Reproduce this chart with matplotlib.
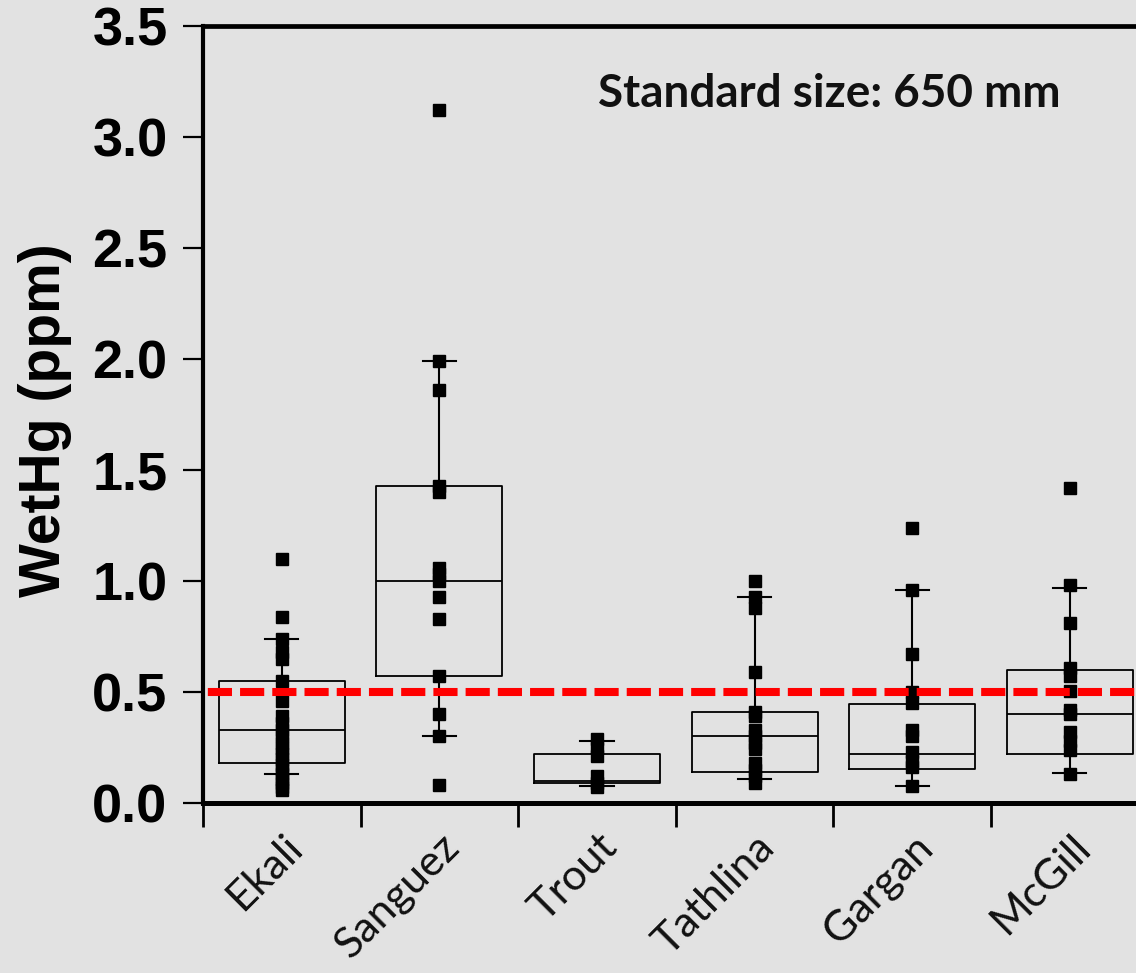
import matplotlib
matplotlib.use("Agg")
import matplotlib.pyplot as plt
import matplotlib.transforms as mtransforms

# ---- data ----
categories = ["Ekali", "Sanguez", "Trout", "Tathlina", "Gargan", "McGill"]

ekali = [1.10, 0.84, 0.74, 0.68, 0.65, 0.55, 0.46, 0.39, 0.36, 0.33, 0.30, 0.27,
         0.25, 0.22, 0.20, 0.17, 0.15, 0.13, 0.11, 0.09, 0.07, 0.06]
sanguez = [3.12, 1.99, 1.86, 1.43, 1.40, 1.06, 1.03, 1.00, 0.93, 0.83, 0.57, 0.40, 0.30, 0.08]
trout = [0.29, 0.25, 0.21, 0.12, 0.09, 0.07]
tathlina = [1.00, 0.93, 0.88, 0.59, 0.41, 0.39, 0.33, 0.30, 0.27, 0.245, 0.18, 0.15, 0.12, 0.09]
gargan = [1.24, 0.96, 0.67, 0.50, 0.45, 0.33, 0.30, 0.23, 0.19, 0.16, 0.075]
mcgill = [1.42, 0.98, 0.81, 0.61, 0.57, 0.505, 0.42, 0.40, 0.32, 0.28, 0.24, 0.13]
points = [ekali, sanguez, trout, tathlina, gargan, mcgill]

q1 = [0.18, 0.57, 0.09, 0.14, 0.155, 0.22]
med = [0.33, 1.00, 0.10, 0.30, 0.22, 0.40]
q3 = [0.55, 1.43, 0.22, 0.41, 0.445, 0.60]
whislo = [0.13, 0.30, 0.075, 0.11, 0.077, 0.135]
whishi = [0.74, 1.99, 0.28, 0.93, 0.96, 0.97]

standard = 0.5
yticks = [0.0, 0.5, 1.0, 1.5, 2.0, 2.5, 3.0, 3.5]
ytick_labels = ["0.0", "0.5", "1.0", "1.5", "2.0", "2.5", "3.0", "3.5"]

# ---- figure ----
W, H = 1136, 973
bg = "#e2e2e2"
fig = plt.figure(figsize=(W / 100, H / 100), dpi=100, facecolor=bg)
ax = fig.add_axes([203 / W, 170 / H, 945.6 / W, 777 / H])
ax.set_facecolor(bg)

positions = list(range(1, len(categories) + 1))
stats = []
for i in range(len(categories)):
    stats.append(dict(med=med[i], q1=q1[i], q3=q3[i], whislo=whislo[i],
                      whishi=whishi[i], fliers=[]))
ax.bxp(stats, positions=positions, widths=0.80, capwidths=0.21,
       showfliers=False, patch_artist=False,
       boxprops=dict(color="black", linewidth=1.3),
       medianprops=dict(color="black", linewidth=1.3),
       whiskerprops=dict(color="black", linewidth=1.5),
       capprops=dict(color="black", linewidth=1.5), zorder=2)

for pos, vals in zip(positions, points):
    ax.plot([pos] * len(vals), vals, linestyle="none", marker="s",
            markersize=8.6, color="black", zorder=3)

ax.axhline(standard, color="#ff0000", linewidth=5.8,
           linestyle=(3.4, (3, 1)), zorder=4)

ax.set_xlim(0.5, 6.5)
ax.set_ylim(0, 3.5)

# spines
for s in ["left", "bottom", "top", "right"]:
    ax.spines[s].set_color("black")
ax.spines["left"].set_linewidth(3.0)
ax.spines["bottom"].set_linewidth(3.6)
ax.spines["top"].set_linewidth(3.4)
ax.spines["right"].set_linewidth(3.4)

# y ticks
ax.set_yticks(yticks)
ax.set_yticklabels(ytick_labels, fontfamily="Liberation Sans",
                   fontweight="bold", fontsize=39)
ax.tick_params(axis="y", direction="out", length=14.5, width=1.6, pad=11)

# x ticks: major at boundaries (no labels), minor at centres (labels)
ax.set_xticks([p - 0.5 for p in positions] + [positions[-1] + 0.5])
ax.set_xticklabels([])
ax.tick_params(axis="x", which="major", direction="out", length=17, width=2.0)
ax.set_xticks(positions, minor=True)
ax.set_xticklabels(categories, minor=True, rotation=45, ha="right",
                   va="center", rotation_mode="anchor",
                   fontfamily="Lato", fontweight="normal", fontsize=31,
                   color="#111111")
ax.tick_params(axis="x", which="minor", length=0, pad=0, labelcolor="#111111")
offset = mtransforms.ScaledTranslation(14 / 100, -38 / 100, fig.dpi_scale_trans)
for lab in ax.get_xticklabels(minor=True):
    lab.set_transform(lab.get_transform() + offset)

# y label
fig.text(45 / W, 1 - 420 / H, "WetHg (ppm)", rotation=90, ha="center",
         va="center", fontfamily="Liberation Sans", fontweight="bold",
         fontsize=41)

# annotation
fig.text(829 / W, 1 - 107 / H, "Standard size: 650 mm", ha="center",
         va="baseline", fontfamily="Lato", fontweight="bold", fontsize=33,
         color="#111111")

fig.savefig("out.png", dpi=100, facecolor=bg)
